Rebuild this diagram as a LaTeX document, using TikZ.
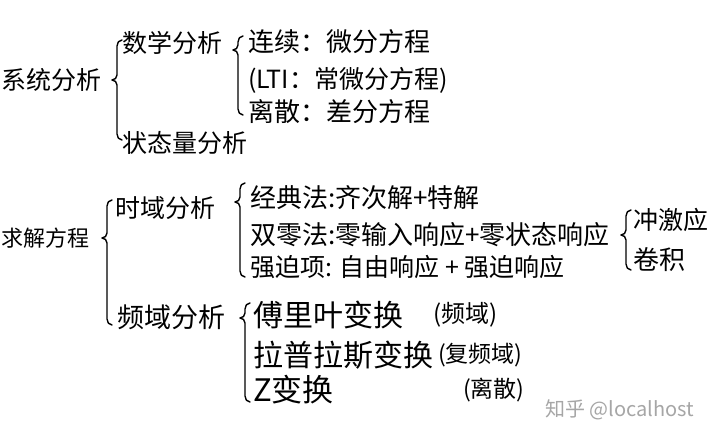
\documentclass[tikz,border=0pt]{standalone}
\usepackage{fontspec}
\setmainfont{Noto Sans CJK SC}
\newcommand\hbr[4]{%
  \draw[brc] (#1+5,#2) to[out=180,in=90] (#1,#2+6) -- (#1,#3-5)
    to[out=-90,in=0] (#1-5,#3) to[out=0,in=90] (#1,#3+5) -- (#1,#4-6)
    to[out=-90,in=180] (#1+5,#4);}
\begin{document}
\begin{tikzpicture}[x=1pt,y=-1pt,
  lab/.style={anchor=west,inner sep=0pt,font=\fontsize{#1}{#1}\selectfont},
  brc/.style={line width=1.4pt,line cap=round,line join=round},
  wm/.style={anchor=west,inner sep=0pt,text=black!35,font=\fontsize{#1}{#1}\selectfont}]
\useasboundingbox (0,0) rectangle (720,443);
\fill[white] (0,0) rectangle (720,443);
% first tree
\node[lab=25] (sys) at (1,80) {系统分析};
\node[lab=25] (math) at (122,43) {数学分析};
\node[lab=25] (state) at (122,143) {状态量分析};
\node[lab=26] (cont) at (248,42) {连续：微分方程};
\node[lab=25] (lti) at (248,80) {(LTI：常微分方程)};
\node[lab=26] (disc) at (248,112) {离散：差分方程};
\hbr{117}{40}{80}{140}
\hbr{238}{36}{50}{115}
% second tree
\node[lab=22] (solve) at (1,238) {求解方程};
\node[lab=25] (time) at (115,208) {时域分析};
\node[lab=27] (freq) at (117,317) {频域分析};
\node[lab=26] (cls) at (250,198) {经典法:齐次解+特解};
\node[lab=26] (zero) at (250,235) {双零法:零输入响应+零状态响应};
\node[lab=25] (force) at (250,267) {强迫项: 自由响应 + 强迫响应};
\node[lab=25] (imp) at (633,220) {冲激应};
\node[lab=26] (conv) at (633,260) {卷积};
\node[lab=30] (ft) at (253,315) {傅里叶变换};
\node[lab=24] (ftd) at (433,315) {(频域)};
\node[lab=30] (lt) at (253,355) {拉普拉斯变换};
\node[lab=23] (ltd) at (438,355) {(复频域)};
\node[lab=31] (zt) at (253,390) {Z变换};
\node[lab=23] (ztd) at (463,390) {(离散)};
\hbr{107}{200}{238}{325}
\hbr{240}{183}{202}{277}
\hbr{626}{210}{235}{270}
\hbr{245}{303}{318}{402}
% watermark
\node[wm=20] (mark) at (545,410) {知乎 @localhost};
\end{tikzpicture}
\end{document}
